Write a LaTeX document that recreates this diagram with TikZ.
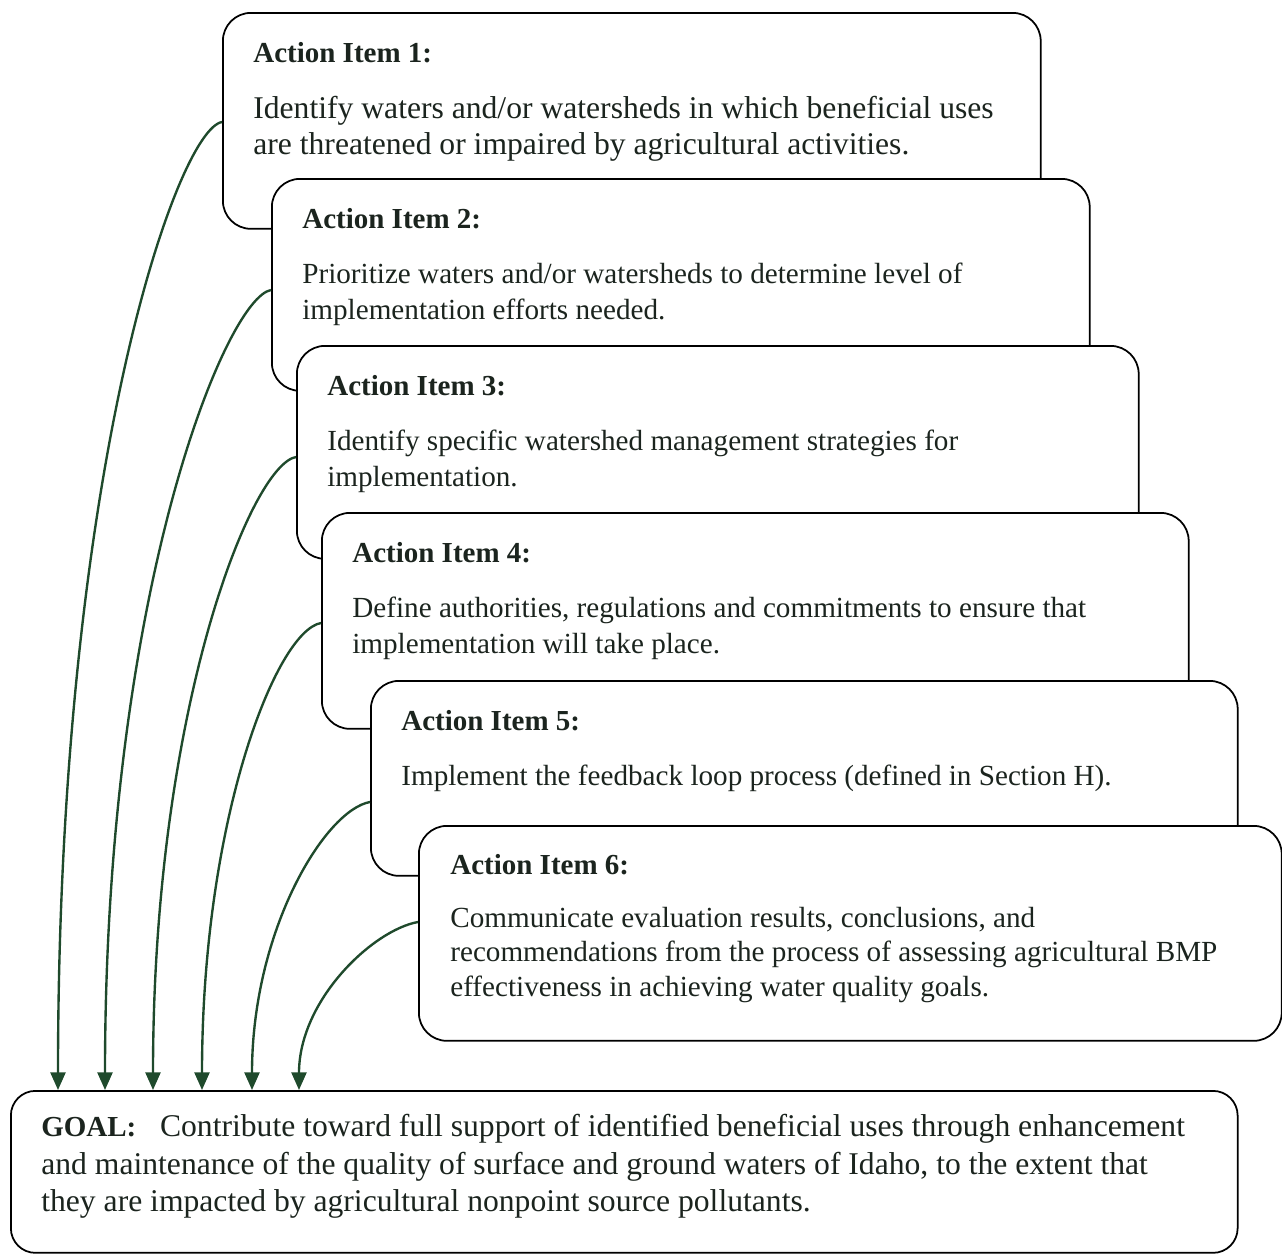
\documentclass[tikz,border=0pt]{standalone}
\usepackage{fontspec}
\setmainfont{Liberation Serif}
\usetikzlibrary{arrows.meta,calc}
\definecolor{arrowgreen}{HTML}{1F4A2C}
\definecolor{inkdark}{HTML}{1B241E}
\newcommand{\itemtitle}[1]{{\fontsize{16.5}{20.5}\selectfont\textbf{#1}}}

\begin{document}
\begin{tikzpicture}[x=0.02cm,y=-0.02cm,
  itembox/.style={draw=black,line width=1pt,fill=white,rounded corners=16pt,anchor=north west,inner sep=0pt},
  itemtext/.style={anchor=north west,align=left,inner sep=0pt,text=inkdark,font=\fontsize{16.6}{20.5}\selectfont},
  goalarrow/.style={arrowgreen,line width=1.35pt,-{Triangle[length=10pt,width=8.5pt]}}]
  \useasboundingbox (0,0) rectangle (1282,1254);
  % stacked action items
  \node[itembox,minimum width=16.36cm,minimum height=4.32cm] (a1) at (222,12) {};
  \node[itemtext,font=\fontsize{18}{20.8}\selectfont] (t1) at ($(a1.north west)+(31,30)$) {\itemtitle{Action Item 1:}\\[11pt]
    Identify waters and/or watersheds in which beneficial uses\\
    are threatened or impaired by agricultural activities.};
  \node[itembox,minimum width=16.36cm,minimum height=4.24cm] (a2) at (271,178) {};
  \node[itemtext] (t2) at ($(a2.north west)+(31,30)$) {\itemtitle{Action Item 2:}\\[11pt]
    Prioritize waters and/or watersheds to determine level of\\
    implementation efforts needed.};
  \node[itembox,minimum width=16.84cm,minimum height=4.26cm] (a3) at (296,345) {};
  \node[itemtext] (t3) at ($(a3.north west)+(31,30)$) {\itemtitle{Action Item 3:}\\[11pt]
    Identify specific watershed management strategies for\\
    implementation.};
  \node[itembox,minimum width=17.34cm,minimum height=4.32cm] (a4) at (321,512) {};
  \node[itemtext] (t4) at ($(a4.north west)+(31,30)$) {\itemtitle{Action Item 4:}\\[11pt]
    Define authorities, regulations and commitments to ensure that\\
    implementation will take place.};
  \node[itembox,minimum width=17.34cm,minimum height=3.9cm] (a5) at (370,680) {};
  \node[itemtext] (t5) at ($(a5.north west)+(31,30)$) {\itemtitle{Action Item 5:}\\[11pt]
    Implement the feedback loop process (defined in Section H).};
  \node[itembox,minimum width=17.26cm,minimum height=4.3cm] (a6) at (418,825) {};
  \node[itemtext,font=\fontsize{16.6}{19.4}\selectfont] (t6) at ($(a6.north west)+(32,29)$) {\itemtitle{Action Item 6:}\\[11pt]
    Communicate evaluation results, conclusions, and\\
    recommendations from the process of assessing agricultural BMP\\
    effectiveness in achieving water quality goals.};
  % goal
  \node[itembox,rounded corners=14pt,minimum width=24.54cm,minimum height=3.24cm] (g) at (10,1090) {};
  \node[itemtext,font=\fontsize{18}{21.3}\selectfont] (gt) at ($(g.north west)+(31,24)$) {\itemtitle{GOAL:}\hspace{0.75em}Contribute toward full support of identified beneficial uses through enhancement\\
    and maintenance of the quality of surface and ground waters of Idaho, to the extent that\\
    they are impacted by agricultural nonpoint source pollutants.};
  % arrows down to the goal
  \foreach \i/\dy/\dx/\len in {1/110/48/620,2/112/95/500,3/112/143/380,4/111/192/270,5/122/242/160,6/97/289/90}
    \draw[goalarrow] ($(a\i.north west)+(0,\dy)$) .. controls +(-45,8) and +(0,-\len) .. ($(g.north west)+(\dx,0)$);
\end{tikzpicture}
\end{document}
